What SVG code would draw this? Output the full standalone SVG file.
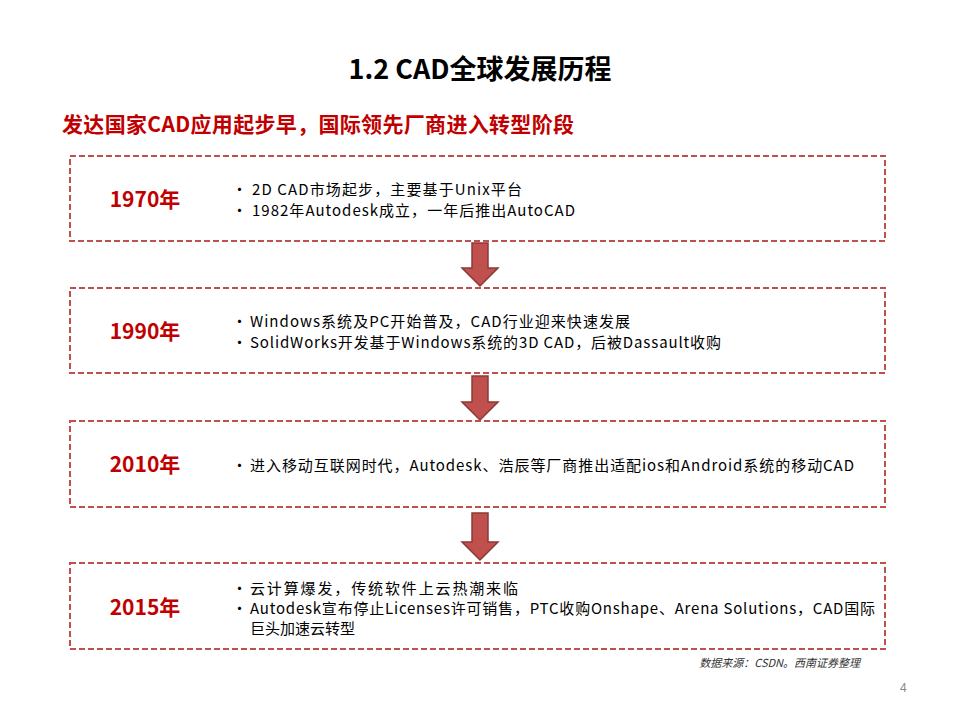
<svg xmlns="http://www.w3.org/2000/svg" width="959" height="719" viewBox="0 0 959 719">
<style>
.box{fill:#fff;stroke:#c0504d;stroke-width:2;stroke-dasharray:6,3}
.yr{font:bold 21px "Noto Sans CJK SC",sans-serif;fill:#c00000;text-anchor:middle}
.t{font:15px "Noto Sans CJK SC",sans-serif;fill:#000}
.arr{fill:#c0504d;stroke:#8c3836;stroke-width:1.5}
</style>
<rect width="959" height="719" fill="#fff"/>
<text x="480" y="79" text-anchor="middle" style="font:bold 27px 'Noto Sans CJK SC',sans-serif">1.2 CAD全球发展历程</text>
<text x="62" y="132" style="font:bold 21px 'Noto Sans CJK SC',sans-serif;fill:#c00000" textLength="512">发达国家CAD应用起步早，国际领先厂商进入转型阶段</text>
<g id="connectors">
<path class="arr" d="M472,243H488V268H498L480,286L462,268H472Z"/>
<path class="arr" d="M472,376H488V402H498L480,420L462,402H472Z"/>
<path class="arr" d="M472,513H488V542H498L480,560L462,542H472Z"/>
</g>
<g id="n1970"><rect class="box" x="70" y="156" width="815" height="85"/>
<text class="yr" x="145" y="207">1970年</text>
<text class="t"><tspan x="232" y="195">•</tspan><tspan x="252" y="195" textLength="270">2D CAD市场起步，主要基于Unix平台</tspan><tspan x="232" y="216">•</tspan><tspan x="252" y="216" textLength="323">1982年Autodesk成立，一年后推出AutoCAD</tspan></text></g>
<g id="n1990"><rect class="box" x="70" y="288" width="815" height="85"/>
<text class="yr" x="145" y="339">1990年</text>
<text class="t"><tspan x="232" y="327">•</tspan><tspan x="250" y="327" textLength="380">Windows系统及PC开始普及，CAD行业迎来快速发展</tspan><tspan x="232" y="348">•</tspan><tspan x="250" y="348" textLength="471">SolidWorks开发基于Windows系统的3D CAD，后被Dassault收购</tspan></text></g>
<g id="n2010"><rect class="box" x="70" y="421" width="815" height="86"/>
<text class="yr" x="145" y="472">2010年</text>
<text class="t"><tspan x="232" y="471">•</tspan><tspan x="250" y="471" textLength="604">进入移动互联网时代，Autodesk、浩辰等厂商推出适配ios和Android系统的移动CAD</tspan></text></g>
<g id="n2015"><rect class="box" x="70" y="563" width="815" height="86"/>
<text class="yr" x="145" y="615">2015年</text>
<text class="t"><tspan x="232" y="594">•</tspan><tspan x="250" y="594" textLength="268">云计算爆发，传统软件上云热潮来临</tspan><tspan x="232" y="614">•</tspan><tspan x="250" y="614" textLength="625">Autodesk宣布停止Licenses许可销售，PTC收购Onshape、Arena Solutions，CAD国际</tspan><tspan x="250" y="634">巨头加速云转型</tspan></text></g>
<text x="860" y="667" text-anchor="end" style="font:italic 11px 'Noto Sans CJK SC',sans-serif;fill:#333">数据来源：CSDN。西南证券整理</text>
<text x="900" y="692" style="font:12px 'Liberation Sans',sans-serif;fill:#888">4</text>
</svg>
